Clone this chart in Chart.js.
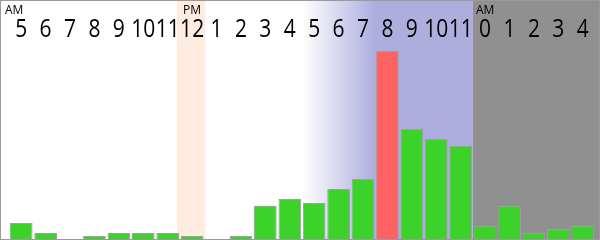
<!DOCTYPE html>
<html>
<head>
<meta charset="utf-8">
<script src="https://cdn.jsdelivr.net/npm/chart.js@4"></script>
<style>
  html, body { margin: 0; padding: 0; background: #fff; }
  #wrap { width: 600px; height: 240px; position: relative; }
</style>
</head>
<body>
<div id="wrap"><canvas id="c" width="600" height="240"></canvas></div>
<script>
// Hours of the day, 5 AM through 4 AM the next morning
const hourLabels = ['5','6','7','8','9','10','11','12','1','2','3','4','5','6','7','8','9','10','11','0','1','2','3','4'];
// AM / PM markers above the hour where each half of the day starts
const periodMarks = [
  { index: 0, text: 'AM', shift: -7 },
  { index: 7, text: 'PM', shift: 0 },
  { index: 19, text: 'AM', shift: 0 }
];
// Activity per hour
const activity = [16, 6, 0, 3, 6, 6, 6, 3, 0, 3, 33, 40, 36, 50, 60, 188, 110, 100, 93, 13, 33, 6, 10, 13];
// Peak hour shown in red
const peakIndex = 15;

const GREEN = '#3bd22a';
const RED = '#fe6262';
const EDGE = '#a19ca8';

const barColors = activity.map((v, i) => i === peakIndex ? RED : GREEN);

// Day-phase backgrounds: noon, dusk gradient, evening, night
const backdrop = {
  id: 'backdrop',
  beforeDraw(chart) {
    const { ctx, scales: { x }, width, height } = chart;
    const w = (x.right - x.left) / hourLabels.length;
    const edge = i => x.left + i * w;
    ctx.save();
    ctx.fillStyle = '#fff';
    ctx.fillRect(0, 0, width, height);
    // noon
    ctx.fillStyle = '#ffebe0';
    ctx.fillRect(edge(7) - 3, 0, w + 4, height);
    // evening with dusk fade
    const g = ctx.createLinearGradient(edge(12), 0, edge(15), 0);
    g.addColorStop(0, 'rgba(173,174,222,0)');
    g.addColorStop(1, 'rgba(173,174,222,1)');
    ctx.fillStyle = g;
    ctx.fillRect(edge(12), 0, edge(19) - edge(12), height);
    // night
    ctx.fillStyle = '#909090';
    ctx.fillRect(edge(19), 0, width - edge(19), height);
    ctx.restore();
  },
  afterDraw(chart) {
    const { ctx, scales: { x }, width, height } = chart;
    ctx.save();
    ctx.fillStyle = '#000';
    ctx.textAlign = 'center';
    ctx.textBaseline = 'alphabetic';
    // hour numbers, set slightly condensed so two-digit hours fit their column
    const squeeze = 0.84;
    ctx.font = '25px "Open Sans"';
    hourLabels.forEach((t, i) => {
      const cx = x.getPixelForValue(i);
      ctx.save();
      ctx.translate(cx, 37);
      ctx.scale(squeeze, 1);
      ctx.fillText(t, 0, 0);
      ctx.restore();
    });
    ctx.font = '12px "Open Sans"';
    periodMarks.forEach(m => {
      ctx.fillText(m.text, x.getPixelForValue(m.index) + m.shift, 14);
    });
    // frame
    ctx.strokeStyle = '#9a9a9a';
    ctx.lineWidth = 1;
    ctx.strokeRect(0.5, 0.5, width - 1, height - 1);
    ctx.restore();
  }
};

new Chart(document.getElementById('c'), {
  type: 'bar',
  data: {
    labels: hourLabels,
    datasets: [{
      data: activity,
      backgroundColor: barColors,
      borderColor: EDGE,
      borderWidth: 1,
      barPercentage: 0.93,
      categoryPercentage: 1
    }]
  },
  options: {
    responsive: false,
    animation: false,
    devicePixelRatio: 1,
    layout: { padding: { left: 9, right: 5, top: 0, bottom: 1 } },
    plugins: { legend: { display: false }, tooltip: { enabled: false } },
    scales: {
      x: { display: false },
      y: { display: false, min: 0, max: 239 }
    }
  },
  plugins: [backdrop]
});
</script>
</body>
</html>
